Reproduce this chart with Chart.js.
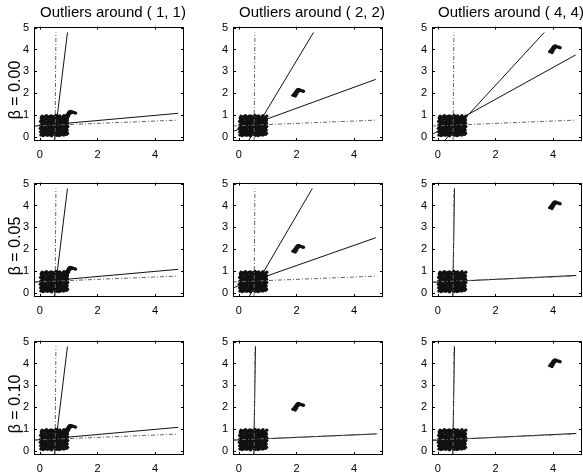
<!DOCTYPE html>
<html>
<head>
<meta charset="utf-8">
<script src="https://cdn.jsdelivr.net/npm/chart.js@4.4.0/dist/chart.umd.min.js"></script>
<style>
body { margin: 0; background: #fff; }
#fig { position: relative; width: 583px; height: 472px; font-family: "Liberation Sans", Arial, sans-serif; color: #000; }
.cell { position: absolute; }
.title { position: absolute; font-size: 15px; white-space: nowrap; transform: translateX(-50%); }
.ylab { position: absolute; font-size: 16px; white-space: nowrap; transform: translate(-50%, -50%) rotate(-90deg); }
</style>
</head>
<body>
<div id="fig"></div>
<script>
var colTitles = ['Outliers around ( 1, 1)', 'Outliers around ( 2, 2)', 'Outliers around ( 4, 4)'];
var rowLabels = ['\u03b2 = 0.00', '\u03b2 = 0.05', '\u03b2 = 0.10'];
var xTicks = [0, 2, 4];
var yTicks = [0, 1, 2, 3, 4, 5];

// main cloud, same in every panel
var inliers = [
  [0.04,0.07],[0.12,0.05],[0.19,0.09],[0.27,0.06],[0.36,0.08],[0.41,0.04],[0.52,0.10],[0.58,0.06],[0.67,0.05],[0.74,0.09],[0.83,0.07],[0.93,0.11],
  [0.08,0.15],[0.15,0.13],[0.23,0.17],[0.31,0.12],[0.38,0.16],[0.47,0.14],[0.55,0.18],[0.62,0.13],[0.71,0.15],[0.79,0.17],[0.88,0.12],[0.96,0.16],
  [0.03,0.22],[0.11,0.24],[0.20,0.20],[0.26,0.25],[0.34,0.21],[0.44,0.23],[0.50,0.26],[0.60,0.20],[0.66,0.24],[0.76,0.22],[0.85,0.25],[0.91,0.21],
  [0.07,0.31],[0.16,0.29],[0.22,0.33],[0.30,0.28],[0.40,0.32],[0.46,0.30],[0.56,0.29],[0.63,0.34],[0.72,0.31],[0.80,0.28],[0.87,0.33],[0.95,0.30],
  [0.02,0.38],[0.13,0.36],[0.18,0.40],[0.28,0.37],[0.35,0.41],[0.43,0.39],[0.53,0.36],[0.59,0.40],[0.69,0.38],[0.75,0.42],[0.84,0.37],[0.92,0.39],
  [0.06,0.46],[0.10,0.48],[0.21,0.44],[0.32,0.47],[0.37,0.45],[0.48,0.49],[0.54,0.43],[0.64,0.47],[0.70,0.45],[0.78,0.48],[0.89,0.44],[0.97,0.46],
  [0.04,0.53],[0.14,0.55],[0.24,0.52],[0.29,0.56],[0.39,0.54],[0.45,0.51],[0.57,0.55],[0.61,0.57],[0.73,0.52],[0.81,0.54],[0.86,0.56],[0.94,0.53],
  [0.09,0.62],[0.17,0.60],[0.25,0.64],[0.33,0.61],[0.42,0.63],[0.49,0.59],[0.51,0.65],[0.65,0.61],[0.68,0.63],[0.77,0.60],[0.90,0.64],[0.96,0.62],
  [0.03,0.70],[0.12,0.72],[0.19,0.68],[0.31,0.71],[0.36,0.69],[0.44,0.73],[0.58,0.70],[0.62,0.67],[0.72,0.72],[0.82,0.69],[0.87,0.71],[0.93,0.68],
  [0.07,0.78],[0.15,0.76],[0.26,0.80],[0.30,0.77],[0.41,0.79],[0.47,0.75],[0.55,0.81],[0.66,0.78],[0.74,0.76],[0.79,0.80],[0.85,0.77],[0.95,0.79],
  [0.05,0.86],[0.11,0.88],[0.22,0.84],[0.28,0.87],[0.38,0.85],[0.50,0.89],[0.53,0.86],[0.60,0.84],[0.70,0.88],[0.76,0.85],[0.88,0.87],[0.92,0.83],
  [0.08,0.94],[0.18,0.92],[0.23,0.96],[0.34,0.93],[0.40,0.95],[0.46,0.91],[0.56,0.97],[0.63,0.93],[0.69,0.95],[0.80,0.92],[0.84,0.96],[0.97,0.94],
  [0.10,0.10],[0.35,0.50],[0.60,0.90],[0.85,0.30],[0.20,0.65],[0.45,0.20],[0.70,0.40],[0.95,0.75]
];

// outlier groups, one per column
var outliers1 = [[0.88,0.90],[0.92,0.95],[0.95,1.00],[0.98,1.05],[1.00,1.10],[1.03,1.14],[1.06,1.16],[1.10,1.15],[1.15,1.12],[1.20,1.10],[1.24,1.08],[0.96,0.88],[1.00,0.95],[1.04,1.05],[1.08,1.10]];
var outliers2 = [[1.88,1.90],[1.92,1.95],[1.95,2.00],[1.98,2.05],[2.00,2.10],[2.03,2.14],[2.06,2.16],[2.10,2.15],[2.15,2.12],[2.20,2.10],[2.24,2.08],[1.96,1.86],[2.00,1.95],[2.04,2.05],[2.08,2.10]];
var outliers4 = [[3.88,3.90],[3.92,3.95],[3.95,4.00],[3.98,4.05],[4.00,4.10],[4.03,4.14],[4.06,4.16],[4.10,4.15],[4.15,4.12],[4.20,4.10],[4.24,4.08],[3.96,3.86],[4.00,3.95],[4.04,4.05],[4.08,4.10]];
var outlierSets = [outliers1, outliers2, outliers4];

// fitted lines, row by row: [[x1,y1],[x2,y2]]
var solidLines = [
  [[[0.50,-0.2],[0.96,4.78]], [[-0.2,0.48],[4.8,1.07]]],
  [[[0.33,-0.2],[2.59,4.78]], [[-0.2,0.24],[4.75,2.63]]],
  [[[0.22,-0.2],[3.69,4.78]], [[-0.2,0.10],[4.78,3.75]]],
  [[[0.50,-0.2],[0.96,4.78]], [[-0.2,0.48],[4.8,1.07]]],
  [[[0.35,-0.2],[2.55,4.78]], [[-0.2,0.22],[4.75,2.52]]],
  [[[0.52,-0.2],[0.58,4.78]], [[-0.2,0.47],[4.8,0.79]]],
  [[[0.50,-0.2],[0.96,4.78]], [[-0.2,0.48],[4.8,1.07]]],
  [[[0.52,-0.2],[0.58,4.78]], [[-0.2,0.48],[4.78,0.77]]],
  [[[0.52,-0.2],[0.58,4.78]], [[-0.2,0.47],[4.8,0.79]]]
];
var dashLines = [
  [[0.53,-0.2],[0.56,4.78]],
  [[-0.2,0.49],[4.8,0.76]]
];

var lefts = [34, 233, 432];
var tops = [23, 179, 337];
var W = 150, H = 118;
var padL = 24, padT = 8, padR = 8, padB = 22;
var fig = document.getElementById('fig');
var fontFam = '"Liberation Sans", Arial, sans-serif';

var framePlugin = {
  id: 'frame',
  afterDraw: function(chart) {
    var ctx = chart.ctx, a = chart.chartArea;
    var xs = chart.scales.x, ys = chart.scales.y;
    ctx.save();
    ctx.strokeStyle = '#000';
    ctx.lineWidth = 1;
    ctx.strokeRect(Math.round(a.left) + 0.5, Math.round(a.top) + 0.5, Math.round(a.right - a.left) - 1, Math.round(a.bottom - a.top) - 1);
    ctx.beginPath();
    xTicks.forEach(function(v) {
      var px = Math.round(xs.getPixelForValue(v)) + 0.5;
      ctx.moveTo(px, a.bottom); ctx.lineTo(px, a.bottom - 3);
      ctx.moveTo(px, a.top); ctx.lineTo(px, a.top + 3);
    });
    yTicks.forEach(function(v) {
      var py = Math.round(ys.getPixelForValue(v)) + 0.5;
      ctx.moveTo(a.left, py); ctx.lineTo(a.left + 3, py);
      ctx.moveTo(a.right, py); ctx.lineTo(a.right - 3, py);
    });
    ctx.stroke();
    ctx.restore();
  }
};

function toXY(seg) {
  return seg.map(function(p) { return {x: p[0], y: p[1]}; });
}

function makePanel(r, c) {
  var div = document.createElement('div');
  div.className = 'cell';
  div.style.left = (lefts[c] - padL) + 'px';
  div.style.top = (tops[r] - padT) + 'px';
  div.style.width = (W + padL + padR) + 'px';
  div.style.height = (H + padT + padB) + 'px';
  var cv = document.createElement('canvas');
  div.appendChild(cv);
  fig.appendChild(div);

  var datasets = [];
  dashLines.forEach(function(seg) {
    datasets.push({data: toXY(seg), showLine: true, borderColor: '#666', borderWidth: 1, borderDash: [4, 2, 1, 2], pointRadius: 0});
  });
  solidLines[r * 3 + c].forEach(function(seg) {
    datasets.push({data: toXY(seg), showLine: true, borderColor: '#111', borderWidth: 1, pointRadius: 0});
  });
  datasets.push({
    data: toXY(inliers.concat(outlierSets[c])),
    showLine: false,
    pointRadius: 1.7,
    pointBorderWidth: 0,
    pointBackgroundColor: '#111'
  });

  new Chart(cv, {
    type: 'scatter',
    data: {datasets: datasets},
    options: {
      responsive: true,
      maintainAspectRatio: false,
      animation: false,
      layout: {padding: {left: 0, top: padT, right: padR, bottom: 0}},
      plugins: {legend: {display: false}, tooltip: {enabled: false}},
      scales: {
        x: {
          type: 'linear', min: -0.2, max: 5,
          afterBuildTicks: function(s) { s.ticks = xTicks.map(function(v) { return {value: v}; }); },
          afterFit: function(s) { s.height = padB; },
          grid: {display: false, drawTicks: false},
          border: {display: false},
          ticks: {padding: 7, color: '#000', font: {size: 11, family: fontFam}}
        },
        y: {
          type: 'linear', min: -0.2, max: 5.05,
          afterBuildTicks: function(s) { s.ticks = yTicks.map(function(v) { return {value: v}; }); },
          afterFit: function(s) { s.width = padL; },
          grid: {display: false, drawTicks: false},
          border: {display: false},
          ticks: {padding: 5, color: '#000', font: {size: 11, family: fontFam}}
        }
      }
    },
    plugins: [framePlugin]
  });
}

for (var r = 0; r < 3; r++) {
  for (var c = 0; c < 3; c++) makePanel(r, c);
}

colTitles.forEach(function(t, c) {
  var d = document.createElement('div');
  d.className = 'title';
  d.textContent = t;
  d.style.left = (lefts[c] + W / 2 + 4) + 'px';
  d.style.top = '3px';
  fig.appendChild(d);
});
rowLabels.forEach(function(t, r) {
  var d = document.createElement('div');
  d.className = 'ylab';
  d.textContent = t;
  d.style.left = '15px';
  d.style.top = (tops[r] + H / 2 + 8) + 'px';
  fig.appendChild(d);
});
</script>
</body>
</html>
